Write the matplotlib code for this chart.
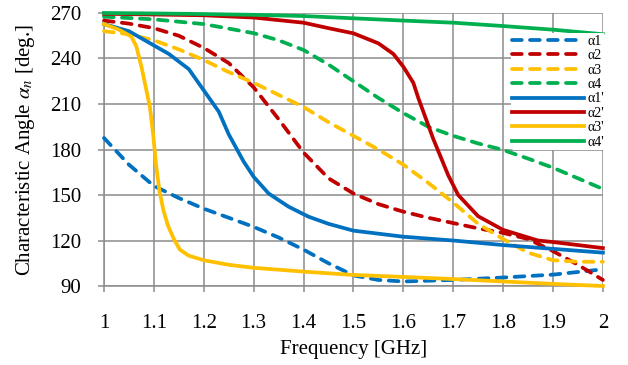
import matplotlib
matplotlib.use("Agg")
import matplotlib.pyplot as plt

plt.rcParams['font.family'] = ['Liberation Serif', 'DejaVu Serif']
plt.rcParams['mathtext.fontset'] = 'stix'

# valeurs (angle caracteristique en degres)
f_a1 = [1.0, 1.05, 1.1, 1.15, 1.2, 1.25, 1.3, 1.35, 1.4, 1.45, 1.5, 1.55, 1.6, 1.7, 1.8, 1.9, 2.0]
a1 = [187.6, 170, 156, 148, 141, 135, 129, 122, 114, 105, 97, 94, 93, 94, 95.6, 97.5, 101]

f_a2 = [1.0, 1.05, 1.1, 1.15, 1.2, 1.25, 1.3, 1.35, 1.4, 1.45, 1.5, 1.55, 1.6, 1.65, 1.7, 1.75, 1.8, 1.85, 1.9, 1.95, 2.0]
a2 = [265, 263, 260, 255, 247, 237, 221, 200, 178, 161, 151, 144, 139, 135, 131.5, 128, 125, 121, 113, 104, 94]

f_a3 = [1.0, 1.05, 1.1, 1.15, 1.2, 1.25, 1.3, 1.35, 1.4, 1.45, 1.5, 1.55, 1.6, 1.65, 1.7, 1.75, 1.8, 1.85, 1.9, 1.95, 2.0]
a3 = [258, 256, 252, 246, 239, 231, 224, 216, 208, 198, 189, 180, 170, 158, 145, 131, 121, 112, 107, 106, 106]

f_a4 = [1.0, 1.1, 1.2, 1.3, 1.35, 1.4, 1.45, 1.5, 1.55, 1.6, 1.65, 1.7, 1.75, 1.8, 1.85, 1.9, 1.95, 2.0]
a4 = [267.6, 265.8, 262.7, 256.7, 252, 245.6, 236, 225, 214, 204, 195, 189, 184, 179.7, 174, 168, 161, 154]

f_b1 = [1.0, 1.05, 1.09, 1.13, 1.17, 1.2, 1.23, 1.25, 1.28, 1.3, 1.33, 1.37, 1.41, 1.45, 1.5, 1.6, 1.7, 1.8, 1.9, 2.0]
b1 = [262.7, 258, 250.5, 243, 233, 219, 205, 190, 172, 162, 151, 142.3, 135.7, 131, 126.5, 122.5, 120, 117, 114.5, 112]

f_b2 = [1.0, 1.1, 1.2, 1.3, 1.4, 1.45, 1.5, 1.55, 1.58, 1.6, 1.62, 1.63, 1.66, 1.69, 1.71, 1.75, 1.8, 1.87, 1.9, 1.95, 2.0]
b2 = [269.5, 269, 268.5, 267, 263.6, 260, 256.6, 250, 243, 234.6, 224, 214, 187, 163, 150, 136, 127, 120, 119, 117, 115]

f_b3 = [1.0, 1.03, 1.055, 1.065, 1.075, 1.085, 1.092, 1.099, 1.104, 1.111, 1.119, 1.128, 1.14, 1.152, 1.17, 1.2, 1.25, 1.3, 1.4, 1.5, 1.6, 1.7, 1.8, 1.9, 2.0]
b3 = [262.7, 259, 254.4, 247.8, 234.6, 219, 208, 188.5, 171, 153, 140, 130, 121, 114, 110, 107, 104, 102, 99.5, 97.3, 96, 94.6, 93, 91.4, 90]

f_b4 = [1.0, 1.1, 1.2, 1.3, 1.4, 1.5, 1.6, 1.7, 1.8, 1.9, 2.0]
b4 = [270, 269.7, 269.3, 268.8, 268, 266.5, 265, 263.6, 261.4, 259, 256]

xticks = [1, 1.1, 1.2, 1.3, 1.4, 1.5, 1.6, 1.7, 1.8, 1.9, 2]
xtick_labels = ['1', '1.1', '1.2', '1.3', '1.4', '1.5', '1.6', '1.7', '1.8', '1.9', '2']
yticks = [90, 120, 150, 180, 210, 240, 270]

bleu = '#0070C0'
rouge = '#C00000'
jaune = '#FFC000'
vert = '#00B050'

fig = plt.figure(figsize=(6.28, 3.65), dpi=100)
ax = fig.add_axes([0.1656, 0.2164, 0.7944, 0.748])

lw = 2.7
tirets = (2.6, 2.2)
series = [
    (f_a1, a1, bleu, True, 'α1'),
    (f_a2, a2, rouge, True, 'α2'),
    (f_a3, a3, jaune, True, 'α3'),
    (f_a4, a4, vert, True, 'α4'),
    (f_b1, b1, bleu, False, "α1'"),
    (f_b2, b2, rouge, False, "α2'"),
    (f_b3, b3, jaune, False, "α3'"),
    (f_b4, b4, vert, False, "α4'"),
]
for x, y, c, pointille, nom in series:
    ligne, = ax.plot(x, y, color=c, lw=lw, label=nom, clip_on=False, zorder=3,
                     solid_joinstyle='round', dash_capstyle='round')
    if pointille:
        ligne.set_dashes(tirets)

ax.set_xlim(1, 2)
ax.set_ylim(90, 270)
ax.set_xticks(xticks)
ax.set_xticklabels(xtick_labels)
ax.set_yticks(yticks)
ax.grid(True, color='#8c8c8c', lw=1.1)
ax.set_axisbelow(True)
for s in ['top', 'right']:
    ax.spines[s].set_visible(False)
for s in ['left', 'bottom']:
    ax.spines[s].set_color('#8c8c8c')
    ax.spines[s].set_linewidth(1.1)
ax.tick_params(axis='both', colors='#8c8c8c', length=4.5, width=1.1, labelsize=15, labelcolor='black')
ax.tick_params(axis='x', pad=16)
ax.tick_params(axis='y', pad=12)

ax.set_xlabel('Frequency [GHz]', fontsize=15, labelpad=5)
ax.set_ylabel(r'Characteristic Angle $\alpha_n$ [deg.]', fontsize=15, labelpad=9)

leg = ax.legend(loc='upper right', bbox_to_anchor=(1.005, 0.925), fontsize=10, frameon=True,
                handlelength=5.2, handletextpad=0.2, labelspacing=0.1, borderpad=0.1,
                borderaxespad=0.0)
leg.get_frame().set_facecolor('white')
leg.get_frame().set_edgecolor('none')
leg.get_frame().set_alpha(1.0)
leg.set_zorder(5)

fig.savefig('out.png', dpi=100)
